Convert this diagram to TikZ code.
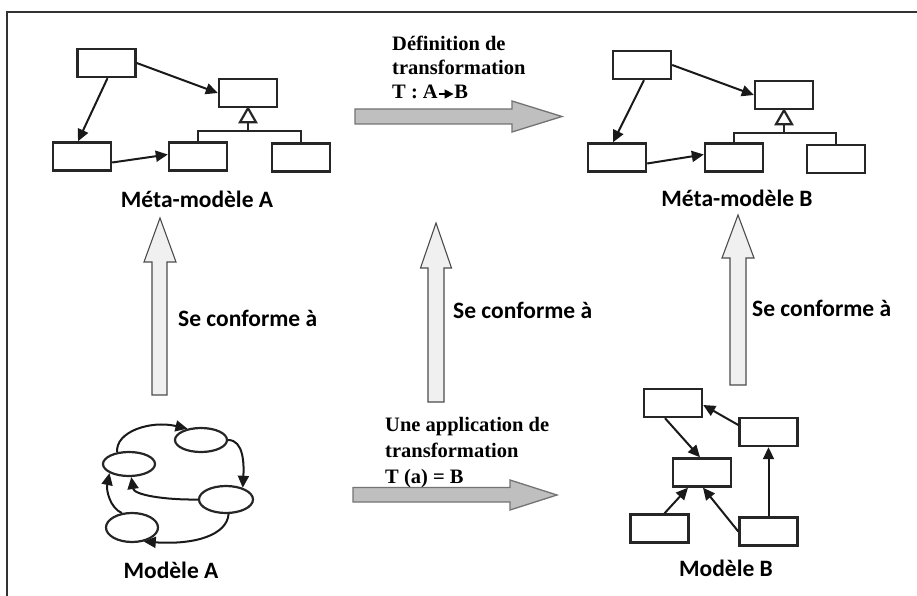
\documentclass[tikz,border=0pt]{standalone}
\usepackage{fontspec}
\setmainfont{Liberation Serif}
\newfontfamily\labfont{Carlito}
\usetikzlibrary{arrows.meta,calc,shapes.geometric}
\begin{document}
\begin{tikzpicture}[x=1pt,y=-1pt,
  umlbox/.style={draw=black!85,line width=2.4pt,fill=white,minimum width=58pt,minimum height=28pt,inner sep=0pt},
  oval/.style={ellipse,draw=black!85,line width=2.2pt,inner sep=0pt},
  link/.style={draw=black!90,line width=2pt,-{Triangle[length=12pt,width=11pt]}},
  inh/.style={draw=black!85,line width=2.2pt},
  vblock/.style={draw=black!70,line width=1.1pt,fill=black!6},
  hblock/.style={draw=black!55,line width=1.3pt,fill=black!25},
  lab/.style={font=\labfont\bfseries\fontsize{23.5}{26}\selectfont,inner sep=0pt},
  tlab/.style={font=\bfseries\fontsize{20.5}{24}\selectfont,inner sep=0pt,anchor=base west},
]
\useasboundingbox (0,0) rectangle (917,596);
% frame
\draw[line width=2.4pt,draw=black!80] (7,596) -- (7,12) -- (917,12);

% ---------- Meta-modele A ----------
\node[umlbox] (a1) at (106.5,63) {};
\node[umlbox] (a2) at (248,93) {};
\node[umlbox] (a3) at (82,156.5) {};
\node[umlbox] (a4) at (198,156.5) {};
\node[umlbox] (a5) at (301,157.5) {};
\draw[link] (a1.east) -- (a2.west);
\draw[link] ($(a1.south)+(1,0)$) -- ($(a3.north)+(-4,0)$);
\draw[link] ($(a3.east)+(0,6)$) -- ($(a4.west)+(0,-2)$);
\coordinate (ja) at ($(a2.south)+(0,23)$);
\draw[inh] (a4.north) |- (ja) -| (a5.north);
\draw[inh] ($(a2.south)+(0,14)$) -- (ja);
\draw[inh,fill=white] (a2.south) -- ($(a2.south)+(8,14)$) -- ($(a2.south)+(-8,14)$) -- cycle;
\node[lab,anchor=base] (lma) at (197,207) {Méta-modèle A};

% ---------- Meta-modele B ----------
\node[umlbox] (b1) at (642,65) {};
\node[umlbox] (b2) at (784,95) {};
\node[umlbox] (b3) at (617,157.5) {};
\node[umlbox] (b4) at (734,157.5) {};
\node[umlbox] (b5) at (836,159) {};
\draw[link] (b1.east) -- (b2.west);
\draw[link] ($(b1.south)+(2,0)$) -- ($(b3.north)+(-4,0)$);
\draw[link] ($(b3.east)+(0,6)$) -- ($(b4.west)+(0,-3)$);
\coordinate (jb) at ($(b2.south)+(0,23)$);
\draw[inh] (b4.north) |- (jb) -| (b5.north);
\draw[inh] ($(b2.south)+(0,14)$) -- (jb);
\draw[inh,fill=white] (b2.south) -- ($(b2.south)+(8,14)$) -- ($(b2.south)+(-8,14)$) -- cycle;
\node[lab,anchor=base] (lmb) at (737,206) {Méta-modèle B};

% ---------- Modele A ----------
\node[oval,minimum width=52pt,minimum height=24pt] (e1) at (201,440) {};
\node[oval,minimum width=52pt,minimum height=24pt] (e2) at (129,464) {};
\node[oval,minimum width=54pt,minimum height=27pt] (e3) at (226,499.5) {};
\node[oval,minimum width=52pt,minimum height=29pt] (e4) at (132,527.5) {};
\draw[link] (e2.135) .. controls (115,432) and (150,420) .. (e1.140);
\draw[link] (e1.east) .. controls (244,440) and (244,465) .. (e3.35);
\draw[link] (e3.west) .. controls (165,500) and (134,495) .. (e2.-80);
\draw[link] (e3.-80) .. controls (227,535) and (195,545) .. (e4.-50);
\draw[link] (e4.125) .. controls (110,508) and (106,490) .. (e2.-155);
\node[lab,anchor=base] (lma2) at (171,578.5) {Modèle A};

% ---------- Modele B ----------
\node[umlbox] (c1) at (673,403) {};
\node[umlbox] (c2) at (768.5,432) {};
\node[umlbox] (c3) at (702,472.5) {};
\node[umlbox] (c4) at (659.5,528.5) {};
\node[umlbox] (c5) at (768.5,531.5) {};
\draw[link] ($(c2.west)+(0,-7)$) -- ($(c1.east)+(0,2)$);
\draw[link] ($(c1.south)+(-8,0)$) -- ($(c3.north)+(-2,0)$);
\draw[link] ($(c4.north)+(5,0)$) -- ($(c3.south)+(-14,0)$);
\draw[link] (c5.west) -- ($(c3.south)+(1,0)$);
\draw[link] (c5.north) -- (c2.south);
\node[lab,anchor=base] (lmb2) at (726,576.5) {Modèle B};

% ---------- block arrows ----------
\draw[vblock] (152,395) -- (152,262) -- (144,262) -- (160,218) -- (176,262) -- (167,262) -- (167,395) -- cycle;
\draw[vblock] (428,402) -- (428,268) -- (420.5,268) -- (436,223) -- (451.5,268) -- (444,268) -- (444,402) -- cycle;
\draw[vblock] (730,385) -- (730,258) -- (722,258) -- (738,215) -- (754,258) -- (746,258) -- (746,385) -- cycle;
\node[lab,anchor=base west] (sc1) at (178,326) {Se conforme à};
\node[lab,anchor=base west] (sc2) at (453,318) {Se conforme à};
\node[lab,anchor=base west] (sc3) at (752,316) {Se conforme à};

\draw[hblock] (355,109) -- (512,109) -- (512,101) -- (562,116.5) -- (512,132) -- (512,124) -- (355,124) -- cycle;
\draw[hblock] (353,487.5) -- (510,487.5) -- (510,480) -- (557,495) -- (510,510) -- (510,502) -- (353,502) -- cycle;

\node[tlab] (t1) at (392,51) {Définition de};
\node[tlab] (t2) at (392,74.5) {transformation};
\node[tlab] (t3) at (392,99) {T : A\tikz[baseline]{\draw[line width=1.6pt,-{Triangle[length=9pt,width=9pt]}] (0pt,5pt) -- (15pt,5pt);}B};
\node[tlab] (u1) at (385,431) {Une application de};
\node[tlab] (u2) at (385,457.5) {transformation};
\node[tlab] (u3) at (385,483) {T (a) = B};
\end{tikzpicture}
\end{document}
